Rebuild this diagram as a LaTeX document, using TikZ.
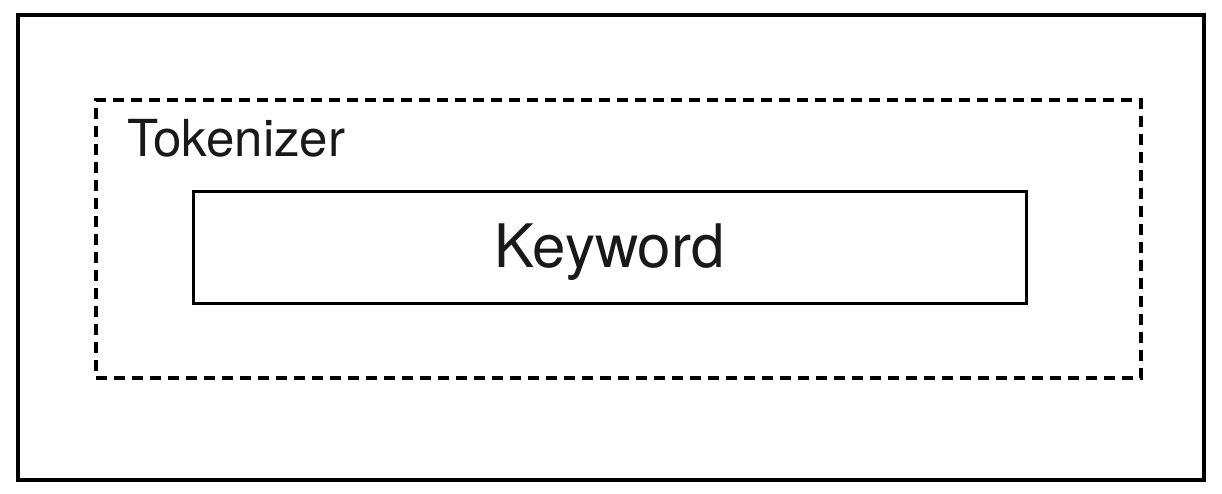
\documentclass[tikz,border=0pt]{standalone}
\usepackage{fontspec}
\setmainfont{TeX Gyre Heros}
\begin{document}
\begin{tikzpicture}[x=1pt,y=-1pt,
  boxstyle/.style={draw=black,rectangle,inner sep=0pt,outer sep=0pt,fill=none},
  labelstyle/.style={inner sep=0pt,outer sep=0pt,text=black!90}]
\useasboundingbox (0,0) rectangle (1222,494);
\fill[white] (0,0) rectangle (1222,494);
\node[boxstyle,line width=3.4pt,minimum width=1186pt,minimum height=465pt] (outer) at (611,247.5) {};
\node[boxstyle,line width=3.4pt,dash pattern=on 11pt off 7pt,minimum width=1045pt,minimum height=278pt] (tok) at (618.5,239) {};
\node[boxstyle,line width=3pt,minimum width=833pt,minimum height=111pt] (kw) at (609.5,247.5) {};
\node[labelstyle,anchor=base west,font=\fontsize{51}{58}\selectfont] (toklabel) at (127,157) {Tokenizer};
\node[labelstyle,anchor=base,font=\fontsize{60}{68}\selectfont] (kwlabel) at (609.5,267) {Keyword};
\end{tikzpicture}
\end{document}
